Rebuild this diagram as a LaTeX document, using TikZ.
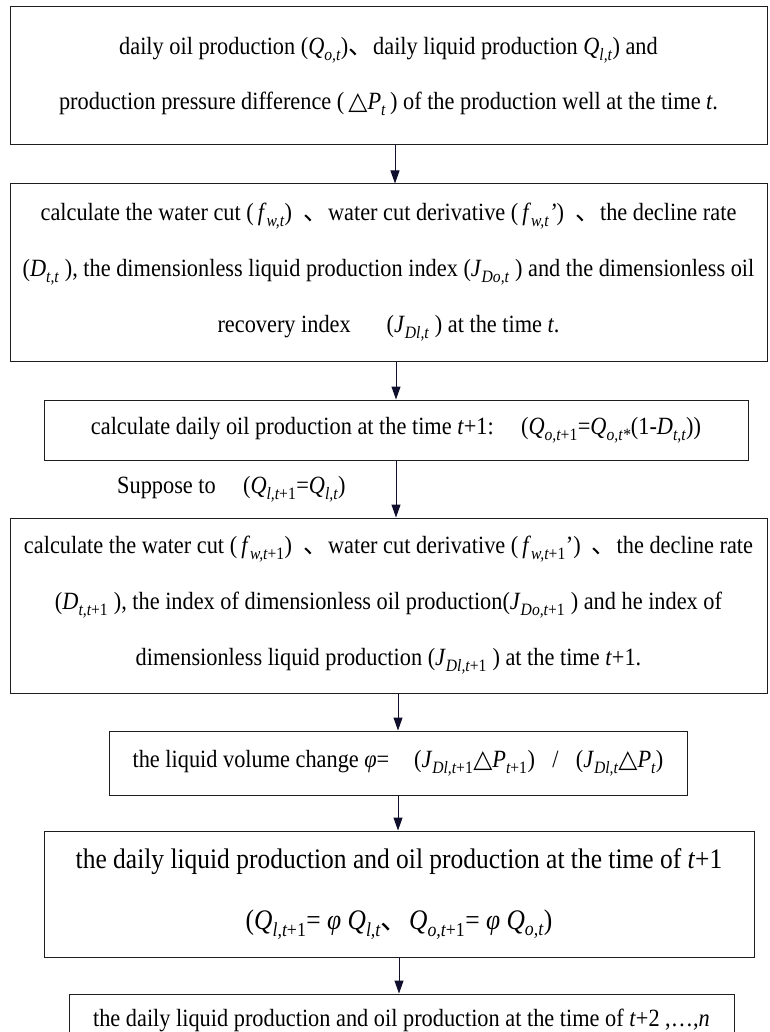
\documentclass[tikz,border=0pt]{standalone}
\usepackage{fontspec}
\setmainfont{Liberation Serif}[FakeStretch=0.9]
\newfontfamily\cjkf{Noto Sans CJK SC}
\newfontfamily\symf{DejaVu Sans}
\usetikzlibrary{arrows.meta,calc}
\definecolor{arrcol}{RGB}{15,15,45}
\definecolor{boxcol}{RGB}{30,30,30}
\newcommand{\iv}[1]{\textit{#1}}
\newcommand{\sbs}[1]{\raisebox{-0.2ex}{\textsubscript{\itshape #1}}}
\newcommand{\dcm}{{\cjkf 、}}
\newcommand{\tri}{{\symf △}}
\begin{document}
\begin{tikzpicture}[x=1pt,y=-1pt,
  box/.style={draw=boxcol,line width=1pt,inner sep=0pt,align=center,text=black},
  flow/.style={draw=arrcol,line width=1pt,-{Triangle[width=9pt,length=13pt]},arrcol}]
\useasboundingbox (0,0) rectangle (769,1032);
\clip (0,0) rectangle (769,1032);
\fill[white] (0,0) rectangle (769,1032);

\node[box,minimum width=757pt,minimum height=138pt,font=\fontsize{24.8}{55}\selectfont] (b1) at (388.5,76)
 {daily oil production (\iv{Q}\sbs{o,t})\dcm{}daily liquid production \iv{Q}\sbs{l,t}) and\\
  production pressure difference (\,\tri\iv{P}\sbs{t}\,) of the production well at the time \iv{t}.};

\node[box,minimum width=757pt,minimum height=177pt,font=\fontsize{24.8}{56}\selectfont] (b2) at (388.5,272.5)
 {calculate the water cut (\,\iv{f}\sbs{w,t}) \ \dcm{}water cut derivative (\,\iv{f}\sbs{w,t}\iv{’}) \ \dcm{}the decline rate\\
  (\iv{D}\sbs{t,t} ), the dimensionless liquid production index (\iv{J}\sbs{Do,t} ) and the dimensionless oil\\
  recovery index \quad\ (\iv{J}\sbs{Dl,t} ) at the time \iv{t}.};

\node[box,minimum width=704pt,minimum height=60pt,font=\fontsize{24.8}{52}\selectfont] (b3) at (396,430)
 {calculate daily oil production at the time \iv{t}+1:\hspace{1.1em}(\iv{Q}\sbs{o,t\upshape+1}=\iv{Q}\sbs{o,t*}(1-\iv{D}\sbs{t,t}))};

\node[anchor=west,inner sep=0pt,font=\fontsize{24.8}{52}\selectfont] (sup) at (117,489)
 {Suppose to\hspace{1.1em}(\iv{Q}\sbs{l,t\upshape+1}=\iv{Q}\sbs{l,t})};

\node[box,minimum width=757pt,minimum height=175pt,font=\fontsize{24.8}{56}\selectfont] (b4) at (388.5,605.5)
 {calculate the water cut (\,\iv{f}\sbs{w,t\upshape+1}) \ \dcm{}water cut derivative (\,\iv{f}\sbs{w,t\upshape+1}’) \ \dcm{}the decline rate\\
  (\iv{D}\sbs{t,t\upshape+1} ), the index of dimensionless oil production(\iv{J}\sbs{Do,t\upshape+1} ) and he index of\\
  dimensionless liquid production (\iv{J}\sbs{Dl,t\upshape+1} ) at the time \iv{t}+1.};

\node[box,minimum width=578pt,minimum height=64pt,font=\fontsize{24.8}{52}\selectfont] (b5) at (398,763)
 {the liquid volume change \iv{φ}=\hspace{1em}(\iv{J}\sbs{Dl,t\upshape+1}\tri\iv{P}\sbs{t\upshape+1})\hspace{0.7em}/\hspace{0.7em}(\iv{J}\sbs{Dl,t}\tri\iv{P}\sbs{t})};

\node[box,minimum width=710pt,minimum height=126pt,font=\fontsize{28.3}{61}\selectfont] (b6) at (399,894)
 {the daily liquid production and oil production at the time of \iv{t}+1\\
  (\iv{Q}\sbs{l,t\upshape+1}= \iv{φ} \iv{Q}\sbs{l,t}\dcm{}\iv{Q}\sbs{o,t\upshape+1}= \iv{φ} \iv{Q}\sbs{o,t})};

\node[box,minimum width=665pt,minimum height=52pt,font=\fontsize{24.8}{52}\selectfont] (b7) at (401.5,1020)
 {the daily liquid production and oil production at the time of \iv{t}+2 ,…,\iv{n}};

\draw[flow] ([xshift=6.5pt]b1.south) -- ([xshift=6.5pt]b1.south |- b2.north);
\draw[flow] (b2.south -| b3.north) -- (b3.north);
\draw[flow] (b3.south) -- (b3.south |- b4.north);
\draw[flow] (b4.south -| b5.north) -- (b5.north);
\draw[flow] (b5.south) -- (b5.south |- b6.north);
\draw[flow] (b6.south) -- (b6.south |- b7.north);
\end{tikzpicture}
\end{document}
